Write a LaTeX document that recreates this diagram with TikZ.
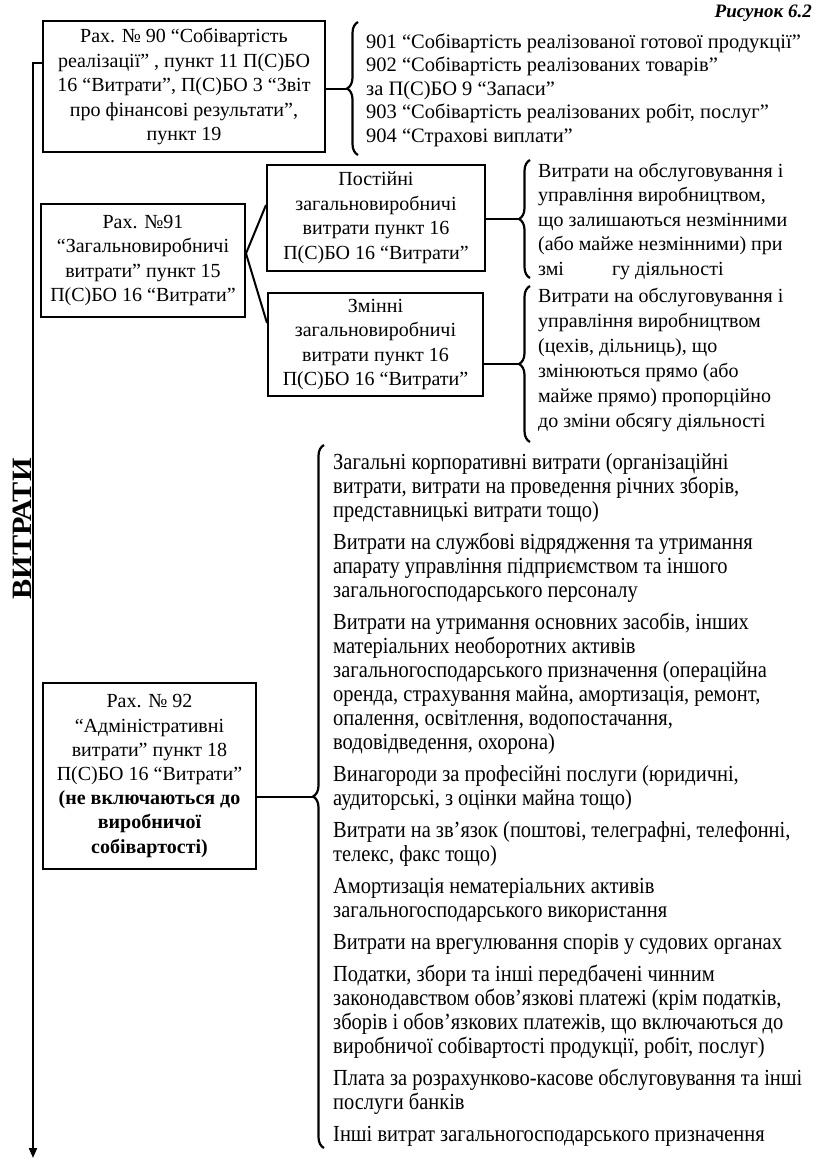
\documentclass[tikz,border=0pt]{standalone}
\usepackage{fontspec}
\setmainfont{Liberation Serif}
\newfontfamily\condfont[FakeStretch=0.89]{Liberation Serif}
\newfontfamily\wideserif[FakeStretch=1.08]{Liberation Serif}
\usetikzlibrary{decorations.pathreplacing,arrows.meta}
\begin{document}
\begin{tikzpicture}[x=1pt,y=-1pt,
  box/.style={draw, line width=2pt, inner sep=0pt, align=center, font=\fontsize{20}{24.5}\selectfont},
  lst/.style={inner sep=0pt, align=left, anchor=west},
  conn/.style={line width=2pt},
  brc/.style={line width=2.2pt, decorate, decoration={brace, amplitude=11pt}}]
\useasboundingbox (0,0) rectangle (816,1167);

% caption
\node[anchor=east, inner sep=0pt, font=\fontsize{19}{19}\selectfont\bfseries\itshape] (fig) at (812,13) {Рисунок 6.2};

% boxes
\node[box, minimum width=282pt, minimum height=131pt] (b90) at (184,86.5)
  {Рах. № 90 “Собівартість\\ реалізації” , пункт 11 П(С)БО\\ 16 “Витрати”, П(С)БО 3 “Звіт\\ про фінансові результати”,\\ пункт 19};
\node[box, minimum width=204pt, minimum height=113pt] (b91) at (143,260.5)
  {Рах. №91\\ “Загальновиробничі\\ витрати” пункт 15\\ П(С)БО 16 “Витрати”};
\node[box, minimum width=218pt, minimum height=106pt] (bp) at (376,218)
  {Постійні\\ загальновиробничі\\ витрати пункт 16\\ П(С)БО 16 “Витрати”};
\node[box, minimum width=215pt, minimum height=103pt] (bz) at (375.5,344.5)
  {Змінні\\ загальновиробничі\\ витрати пункт 16\\ П(С)БО 16 “Витрати”};
\node[box, minimum width=213pt, minimum height=186pt, font=\fontsize{20}{24.2}\selectfont] (b92) at (149.5,776)
  {Рах. № 92\\ “Адміністративні\\ витрати” пункт 18\\ П(С)БО 16 “Витрати”\\ \bfseries(не включаються до\\ \bfseries виробничої\\ \bfseries собівартості)};

% vertical title
\node[rotate=90, inner sep=0pt, font=\wideserif\fontsize{28}{28}\selectfont\bfseries] (vyt) at (22.5,529) {ВИТРАТИ};

% main axis
\coordinate (mtop) at (33,63);
\coordinate (mbot) at (33,1158);
\draw[conn, -{Triangle[width=8pt,length=10pt]}] (mtop -| b90.west) -- (mtop) -- (mbot);

% lists
\node[lst, font=\fontsize{20.5}{23.5}\selectfont] (l90) at (366,90)
  {901 “Собівартість реалізованої готової продукції”\\
   902 “Собівартість реалізованих товарів”\\
   за П(С)БО 9 “Запаси”\\
   903 “Собівартість реалізованих робіт, послуг”\\
   904 “Страхові виплати”};
\node[lst, font=\fontsize{20}{24.5}\selectfont] (lp) at (538,221)
  {Витрати  на обслуговування і\\
   управління виробництвом,\\
   що залишаються незмінними\\
   (або майже незмінними) при\\
   змі\hspace{2.4em}гу діяльності};
\node[lst, font=\fontsize{20}{25}\selectfont] (lz) at (538,360)
  {Витрати на обслуговування і\\
   управління виробництвом\\
   (цехів, дільниць), що\\
   змінюються прямо (або\\
   майже  прямо) пропорційно\\
   до зміни обсягу діяльності};
\node[lst, font=\condfont\fontsize{23}{24}\selectfont] (l92) at (333,800)
  {Загальні корпоративні витрати (організаційні\\
   витрати, витрати на проведення річних зборів,\\
   представницькі витрати тощо)\\[8pt]
   Витрати на службові відрядження та утримання\\
   апарату управління підприємством та іншого\\
   загальногосподарського персоналу\\[8pt]
   Витрати на утримання основних засобів, інших\\
   матеріальних необоротних активів\\
   загальногосподарського призначення (операційна\\
   оренда, страхування майна, амортизація, ремонт,\\
   опалення, освітлення, водопостачання,\\
   водовідведення, охорона)\\[8pt]
   Винагороди за професійні послуги (юридичні,\\
   аудиторські, з оцінки майна тощо)\\[8pt]
   Витрати на зв’язок (поштові, телеграфні, телефонні,\\
   телекс, факс тощо)\\[8pt]
   Амортизація нематеріальних активів\\
   загальногосподарського використання\\[8pt]
   Витрати на врегулювання спорів у судових органах\\[8pt]
   Податки, збори та інші передбачені чинним\\
   законодавством обов’язкові платежі (крім податків,\\
   зборів і обов’язкових платежів, що включаються до\\
   виробничої собівартості продукції, робіт, послуг)\\[8pt]
   Плата за розрахунково-касове обслуговування та інші\\
   послуги банків\\[8pt]
   Інші витрат загальногосподарського призначення};

% braces and their tips
\draw[brc] (358,155) -- (358,22);
\coordinate (t1) at (347,88.5);
\draw[brc] (530,278) -- (530,160);
\coordinate (t2) at (519,219);
\draw[brc] (530,442) -- (530,286);
\coordinate (t3) at (519,364);
\draw[brc] (324,1148) -- (324,445);
\coordinate (t4) at (313,796.5);

% connectors
\draw[conn] (t1 -| b90.east) -- (t1);
\draw[conn] (t2 -| bp.east) -- (t2);
\draw[conn] (t3 -| bz.east) -- (t3);
\draw[conn] (t4 -| b92.east) -- (t4);
\draw[conn] ([yshift=7pt]b91.east) -- ([yshift=13pt]bp.west);
\draw[conn] ([yshift=7pt]b91.east) -- ([yshift=21.5pt]bz.west);
\end{tikzpicture}
\end{document}
